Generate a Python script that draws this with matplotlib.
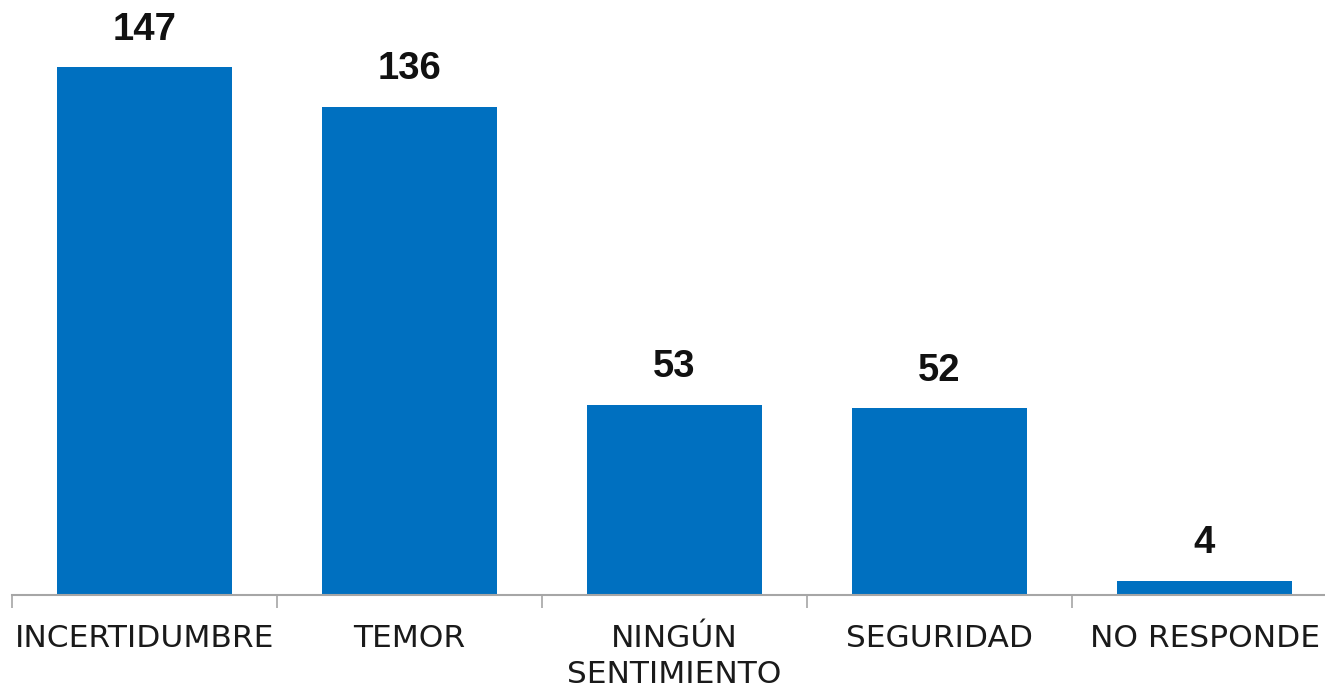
import matplotlib
matplotlib.use("Agg")
import matplotlib.pyplot as plt
import numpy as np

categories = ["INCERTIDUMBRE", "TEMOR", "NINGÚN\nSENTIMIENTO", "SEGURIDAD", "NO RESPONDE"]
values = [147, 136, 53, 52, 4]

W, H = 1325, 695
fig = plt.figure(figsize=(W / 100, H / 100), dpi=100)
left = 12 / W
right = 1337 / W
bottom = 1 - 595 / H
scale = (595 - 67) / 147.0
ymax = 160
height = ymax * scale / H
ax = fig.add_axes([left, bottom, right - left, height])

x = np.arange(len(categories))
bars = ax.bar(x, values, width=0.66, color="#0070C0", zorder=2)

for xi, v in zip(x, values):
    ax.annotate(str(v), (xi, v), xytext=(0, 14), textcoords="offset points",
                ha="center", va="bottom", fontsize=27.5, fontweight="bold",
                family="Liberation Sans", color="#111111")

ax.set_xlim(-0.5, len(categories) - 0.5)
ax.set_ylim(0, ymax)
for s in ["top", "right", "left"]:
    ax.spines[s].set_visible(False)
ax.spines["bottom"].set_color("#A6A6A6")
ax.spines["bottom"].set_linewidth(1.5)
ax.set_yticks([])
ax.set_xticks(x)
ax.set_xticklabels(categories, fontsize=22.5, family="DejaVu Sans", color="#1a1a1a",
                   linespacing=1.3)
ax.tick_params(axis="x", which="major", length=0, pad=21)
ax.set_xticks(np.arange(-0.5, len(categories), 1.0), minor=True)
ax.tick_params(axis="x", which="minor", length=9, width=1.2, color="#A6A6A6", direction="out")

fig.savefig("out.png", dpi=100)
